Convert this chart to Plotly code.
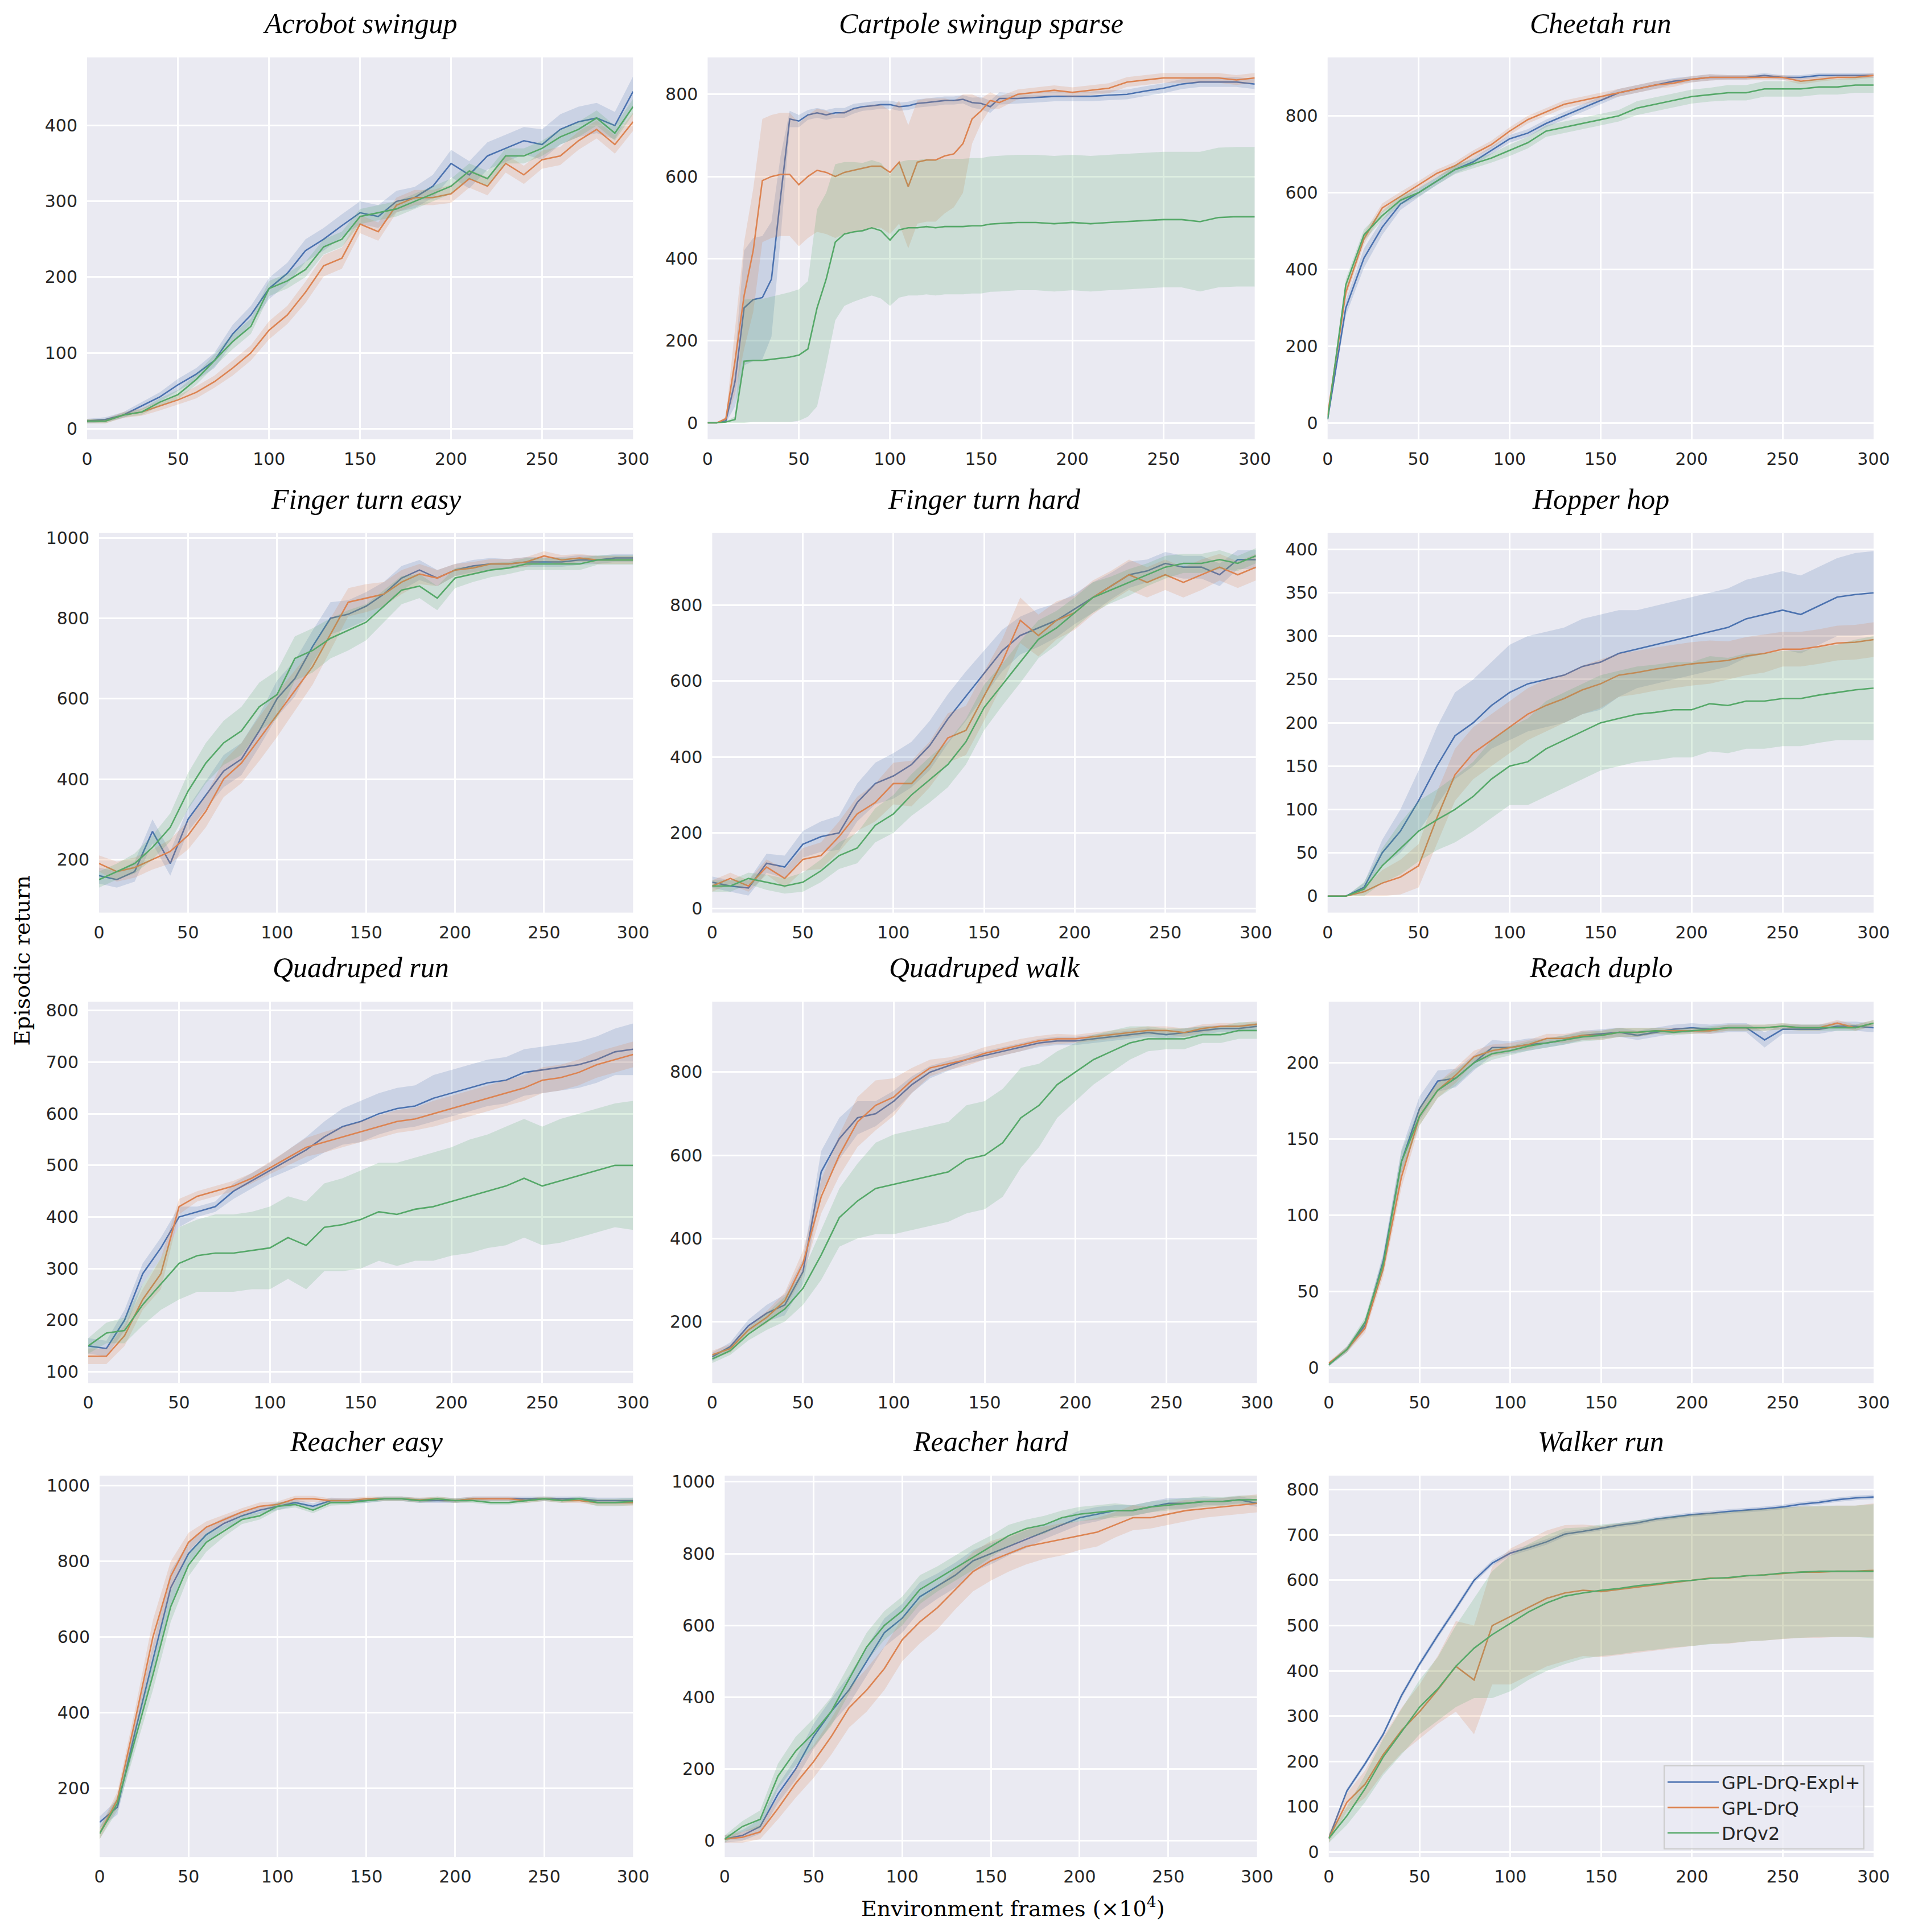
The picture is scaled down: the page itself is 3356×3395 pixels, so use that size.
import plotly.graph_objects as go

W, H = 3356, 3395

NAMES = ["GPL-DrQ-Expl+", "GPL-DrQ", "DrQv2"]
COLORS = ["#4C72B0", "#DD8452", "#55A868"]
FILLS = ["rgba(76,114,176,0.2)", "rgba(221,132,82,0.2)", "rgba(85,168,104,0.2)"]

# common x grid (environment frames x1e4)
X = [0, 10, 20, 30, 40, 50, 60, 70, 80, 90, 100, 110, 120, 130, 140, 150,
     160, 170, 180, 190, 200, 210, 220, 230, 240, 250, 260, 270, 280, 290, 300]
CART_X = [0, 5, 10, 15, 20, 25, 30, 35, 40, 45, 50, 55, 60, 65, 70, 75, 80, 85, 90, 95,
          100, 105, 110, 115, 120, 125, 130, 135, 140, 145, 150, 155, 160, 170, 180, 190,
          200, 210, 220, 230, 240, 250, 260, 270, 280, 290, 300]

# ---- Acrobot swingup
ACRO_EXPL = [10, 12, 18, 30, 42, 58, 72, 90, 125, 150, 185, 205, 235, 250, 268, 285, 280, 300, 305, 320, 350, 335, 360, 370, 380, 375, 395, 405, 410, 400, 445]
ACRO_EXPL_SD = [3, 3, 4, 5, 6, 8, 8, 10, 12, 12, 14, 14, 15, 15, 15, 15, 15, 14, 14, 15, 18, 18, 18, 18, 18, 20, 20, 20, 20, 18, 20]
ACRO_DRQ = [10, 10, 18, 22, 30, 38, 48, 62, 80, 100, 130, 150, 180, 215, 225, 270, 260, 295, 305, 305, 310, 330, 320, 350, 335, 355, 360, 380, 395, 375, 405]
ACRO_DRQ_SD = [3, 3, 4, 5, 6, 6, 8, 8, 10, 10, 12, 12, 14, 14, 14, 12, 12, 10, 10, 10, 12, 12, 12, 12, 12, 12, 12, 12, 12, 12, 12]
ACRO_V2 = [10, 10, 18, 22, 35, 45, 65, 90, 115, 135, 185, 195, 210, 240, 250, 280, 285, 290, 300, 310, 320, 340, 330, 360, 360, 370, 385, 395, 410, 390, 425]
ACRO_V2_SD = [3, 3, 3, 4, 5, 6, 7, 8, 10, 10, 10, 10, 10, 10, 10, 10, 10, 10, 10, 10, 10, 10, 10, 10, 10, 10, 10, 10, 10, 10, 10]

# ---- Cartpole swingup sparse
CART_EXPL = [0, 0, 5, 100, 280, 300, 305, 350, 550, 740, 735, 750, 755, 750, 755, 755, 765, 770, 772, 775,
             775, 770, 772, 778, 780, 782, 785, 785, 788, 780, 778, 770, 790, 790, 792, 795,
             795, 795, 798, 800, 808, 815, 825, 830, 830, 830, 825]
CART_EXPL_SD = [0, 0, 5, 60, 140, 150, 150, 140, 100, 20, 15, 12, 12, 12, 12, 12, 12, 10, 10, 10,
                10, 10, 10, 10, 10, 10, 10, 10, 10, 12, 15, 15, 15, 12, 12, 12,
                12, 12, 12, 12, 12, 12, 12, 12, 12, 12, 12]
CART_DRQ = [0, 0, 10, 150, 310, 420, 590, 600, 605, 605, 580, 600, 615, 610, 600, 610, 615, 620, 625, 625,
            610, 635, 575, 635, 640, 640, 650, 655, 680, 740, 760, 785, 780, 800, 805, 810,
            805, 810, 815, 830, 835, 840, 840, 840, 840, 835, 840]
CART_DRQ_SD = [0, 0, 5, 80, 130, 150, 150, 150, 150, 150, 150, 150, 150, 150, 150, 150, 150, 150, 150, 150,
               150, 150, 150, 150, 150, 150, 140, 130, 120, 60, 30, 20, 15, 12, 12, 12,
               12, 12, 12, 12, 12, 12, 12, 12, 12, 12, 12]
CART_V2 = [0, 0, 2, 8, 150, 152, 152, 155, 157, 160, 165, 180, 280, 350, 440, 460, 465, 468, 475, 468,
           445, 470, 475, 475, 478, 475, 478, 478, 478, 480, 480, 484, 485, 488, 488, 485,
           488, 485, 488, 490, 492, 495, 495, 490, 500, 502, 502]
CART_V2_SD = [0, 0, 2, 8, 150, 150, 150, 152, 155, 158, 160, 165, 240, 210, 190, 175, 170, 165, 165, 165,
              160, 165, 165, 165, 165, 165, 165, 165, 165, 165, 165, 165, 165, 165, 165, 165,
              165, 165, 165, 165, 165, 165, 165, 170, 170, 170, 170]

# ---- Cheetah run
CHEE_EXPL = [10, 300, 430, 510, 570, 600, 630, 660, 680, 710, 740, 755, 780, 800, 820, 840, 860, 870, 880, 890, 895, 900, 900, 900, 905, 900, 900, 905, 905, 905, 905]
CHEE_EXPL_SD = [5, 20, 25, 20, 15, 12, 10, 10, 10, 10, 10, 10, 10, 10, 10, 10, 10, 10, 10, 8, 8, 8, 6, 6, 6, 6, 6, 6, 6, 6, 6]
CHEE_DRQ = [20, 340, 480, 560, 590, 620, 650, 670, 700, 725, 760, 790, 810, 830, 840, 850, 860, 870, 880, 885, 895, 900, 900, 900, 900, 900, 890, 895, 900, 900, 905]
CHEE_DRQ_SD = [5, 15, 15, 12, 12, 10, 10, 10, 10, 10, 10, 10, 10, 10, 10, 10, 10, 10, 10, 10, 8, 8, 6, 6, 6, 6, 8, 6, 6, 6, 6]
CHEE_V2 = [10, 360, 490, 540, 580, 600, 630, 660, 675, 690, 710, 730, 760, 770, 780, 790, 800, 820, 830, 840, 850, 855, 860, 860, 870, 870, 870, 875, 875, 880, 880]
CHEE_V2_SD = [5, 15, 15, 12, 12, 10, 10, 12, 12, 12, 15, 15, 15, 15, 15, 15, 15, 18, 18, 18, 18, 18, 20, 20, 20, 20, 20, 20, 20, 20, 20]

# ---- Finger turn easy
FEAS_EXPL = [160, 150, 170, 270, 190, 300, 360, 420, 450, 520, 600, 650, 730, 800, 810, 830, 860, 900, 920, 900, 920, 930, 935, 935, 940, 940, 940, 945, 945, 950, 950]
FEAS_EXPL_SD = [20, 20, 25, 30, 30, 30, 35, 40, 40, 40, 45, 45, 40, 40, 35, 35, 30, 30, 25, 20, 15, 15, 15, 12, 12, 12, 12, 12, 10, 10, 10]
FEAS_DRQ = [190, 170, 180, 200, 220, 260, 320, 400, 440, 500, 560, 620, 680, 760, 840, 850, 860, 890, 910, 900, 920, 925, 935, 935, 940, 955, 945, 950, 945, 945, 945]
FEAS_DRQ_SD = [20, 25, 25, 25, 30, 35, 40, 45, 50, 55, 55, 50, 45, 40, 35, 35, 30, 30, 25, 20, 15, 15, 12, 12, 12, 12, 12, 10, 10, 10, 10]
FEAS_V2 = [150, 170, 190, 230, 280, 370, 440, 490, 520, 580, 610, 700, 720, 750, 770, 790, 830, 870, 880, 850, 900, 910, 920, 925, 935, 935, 935, 935, 945, 945, 945]
FEAS_V2_SD = [20, 20, 25, 30, 35, 45, 50, 55, 60, 60, 60, 55, 55, 50, 50, 45, 40, 35, 30, 30, 25, 20, 18, 15, 15, 15, 15, 15, 12, 12, 12]

# ---- Finger turn hard
FHRD_EXPL = [70, 60, 55, 120, 110, 170, 190, 200, 280, 330, 350, 380, 430, 500, 560, 620, 680, 720, 740, 760, 790, 820, 850, 880, 890, 910, 900, 900, 880, 920, 920]
FHRD_EXPL_SD = [15, 15, 20, 25, 30, 35, 40, 45, 50, 55, 60, 60, 65, 65, 65, 60, 55, 50, 50, 45, 40, 40, 35, 35, 30, 30, 30, 30, 30, 25, 25]
FHRD_DRQ = [60, 80, 60, 110, 80, 130, 140, 190, 250, 280, 330, 330, 380, 450, 470, 560, 650, 760, 720, 760, 780, 820, 850, 880, 860, 880, 860, 880, 900, 880, 900]
FHRD_DRQ_SD = [15, 15, 15, 20, 25, 30, 35, 40, 45, 50, 55, 60, 60, 65, 65, 65, 60, 60, 55, 50, 45, 45, 40, 40, 40, 40, 40, 40, 35, 35, 35]
FHRD_V2 = [60, 60, 80, 70, 60, 70, 100, 140, 160, 220, 250, 300, 340, 380, 440, 530, 590, 650, 710, 740, 780, 820, 840, 860, 880, 900, 910, 910, 920, 910, 930]
FHRD_V2_SD = [15, 15, 15, 20, 20, 25, 30, 35, 40, 45, 50, 55, 60, 60, 60, 60, 55, 55, 50, 45, 40, 40, 35, 35, 30, 30, 25, 25, 25, 20, 20]

# ---- Hopper hop
HOP_EXPL = [0, 0, 10, 50, 75, 110, 150, 185, 200, 220, 235, 245, 250, 255, 265, 270, 280, 285, 290, 295, 300, 305, 310, 320, 325, 330, 325, 335, 345, 348, 350]
HOP_EXPL_SD = [0, 0, 5, 15, 25, 35, 45, 50, 50, 50, 55, 55, 55, 55, 55, 55, 50, 45, 45, 45, 45, 45, 45, 45, 45, 45, 45, 45, 45, 48, 48]
HOP_DRQ = [0, 0, 5, 15, 22, 35, 90, 140, 165, 180, 195, 210, 220, 228, 238, 245, 255, 258, 262, 265, 268, 270, 272, 277, 280, 285, 285, 288, 292, 293, 296]
HOP_DRQ_SD = [0, 0, 5, 15, 20, 25, 30, 30, 30, 30, 30, 30, 30, 28, 28, 28, 25, 25, 25, 25, 25, 25, 22, 22, 22, 20, 20, 20, 20, 20, 20]
HOP_V2 = [0, 0, 8, 35, 55, 75, 88, 100, 115, 135, 150, 155, 170, 180, 190, 200, 205, 210, 212, 215, 215, 222, 220, 225, 225, 228, 228, 232, 235, 238, 240]
HOP_V2_SD = [0, 0, 8, 20, 30, 35, 35, 38, 40, 45, 45, 50, 55, 55, 55, 55, 55, 55, 55, 55, 55, 55, 55, 55, 55, 55, 55, 55, 55, 58, 60]

# ---- Quadruped run
QRUN_EXPL = [150, 145, 200, 290, 340, 400, 410, 420, 450, 470, 490, 510, 530, 555, 575, 585, 600, 610, 615, 630, 640, 650, 660, 665, 680, 685, 690, 695, 705, 720, 725]
QRUN_EXPL_SD = [15, 15, 20, 20, 20, 20, 10, 10, 15, 15, 15, 20, 25, 30, 35, 40, 40, 40, 40, 45, 45, 45, 45, 45, 45, 45, 45, 45, 45, 45, 50]
QRUN_DRQ = [130, 130, 170, 240, 290, 420, 440, 450, 460, 475, 495, 515, 535, 545, 555, 565, 575, 585, 590, 600, 610, 620, 630, 640, 650, 665, 670, 680, 695, 705, 715]
QRUN_DRQ_SD = [15, 15, 20, 20, 30, 15, 10, 10, 10, 10, 12, 15, 18, 20, 20, 20, 22, 22, 22, 25, 25, 25, 25, 25, 25, 25, 25, 25, 25, 25, 25]
QRUN_V2 = [150, 175, 180, 230, 270, 310, 325, 330, 330, 335, 340, 360, 345, 380, 385, 395, 410, 405, 415, 420, 430, 440, 450, 460, 475, 460, 470, 480, 490, 500, 500]
QRUN_V2_SD = [15, 20, 25, 40, 50, 70, 70, 75, 75, 75, 80, 80, 85, 85, 90, 95, 95, 100, 100, 105, 105, 110, 110, 115, 115, 115, 120, 120, 120, 120, 125]

# ---- Quadruped walk
QWLK_EXPL = [115, 140, 190, 220, 240, 320, 560, 640, 690, 700, 730, 770, 800, 815, 830, 840, 850, 860, 870, 875, 875, 880, 885, 890, 895, 890, 895, 900, 905, 905, 910]
QWLK_EXPL_SD = [10, 10, 15, 20, 25, 30, 50, 50, 40, 30, 25, 20, 15, 12, 10, 10, 10, 10, 10, 10, 10, 10, 10, 10, 10, 10, 10, 10, 8, 8, 8]
QWLK_DRQ = [120, 135, 180, 210, 250, 340, 500, 600, 680, 720, 740, 780, 810, 820, 830, 845, 855, 865, 875, 880, 880, 885, 890, 895, 900, 900, 895, 905, 910, 910, 915]
QWLK_DRQ_SD = [10, 10, 10, 15, 20, 30, 40, 50, 60, 60, 45, 30, 20, 15, 15, 15, 15, 15, 12, 12, 10, 10, 10, 10, 10, 10, 10, 10, 8, 8, 8]
QWLK_V2 = [110, 130, 170, 200, 230, 280, 360, 450, 490, 520, 530, 540, 550, 560, 590, 600, 630, 690, 720, 770, 800, 830, 850, 870, 880, 880, 880, 890, 890, 900, 900]
QWLK_V2_SD = [10, 10, 15, 20, 30, 40, 60, 70, 90, 110, 120, 120, 120, 120, 130, 130, 130, 120, 100, 80, 70, 60, 50, 40, 30, 25, 25, 20, 20, 20, 20]

# ---- Reach duplo
DUP_EXPL = [2, 12, 28, 70, 135, 170, 188, 190, 200, 210, 210, 212, 213, 215, 218, 219, 220, 218, 220, 222, 223, 222, 223, 223, 215, 222, 222, 222, 224, 224, 223]
DUP_EXPL_SD = [1, 2, 3, 5, 8, 8, 7, 6, 5, 5, 4, 4, 3, 3, 3, 3, 3, 3, 3, 3, 3, 3, 3, 3, 5, 3, 3, 3, 3, 3, 3]
DUP_DRQ = [3, 12, 26, 65, 125, 165, 182, 192, 204, 208, 210, 212, 216, 216, 218, 218, 220, 220, 221, 221, 221, 221, 223, 223, 223, 224, 223, 223, 226, 223, 226]
DUP_DRQ_SD = [1, 2, 3, 5, 7, 6, 5, 5, 4, 4, 3, 3, 3, 3, 3, 3, 3, 3, 2, 2, 2, 2, 2, 2, 2, 2, 2, 2, 2, 2, 2]
DUP_V2 = [2, 12, 30, 68, 135, 165, 182, 190, 200, 206, 208, 211, 213, 215, 217, 218, 220, 220, 221, 220, 221, 222, 223, 223, 223, 224, 223, 223, 223, 223, 226]
DUP_V2_SD = [1, 2, 3, 5, 7, 6, 5, 5, 4, 4, 3, 3, 3, 3, 3, 3, 3, 3, 2, 2, 2, 2, 2, 2, 2, 2, 2, 2, 2, 2, 2]

# ---- Reacher easy
REAS_EXPL = [110, 150, 350, 540, 730, 820, 870, 900, 920, 935, 945, 955, 945, 960, 960, 960, 965, 965, 960, 960, 960, 965, 965, 965, 965, 965, 965, 965, 960, 960, 960]
REAS_EXPL_SD = [15, 20, 30, 40, 45, 30, 20, 15, 12, 10, 10, 8, 8, 8, 6, 6, 6, 6, 6, 6, 6, 6, 6, 6, 6, 6, 6, 6, 8, 8, 8]
REAS_DRQ = [80, 170, 380, 600, 760, 850, 890, 910, 930, 945, 950, 965, 965, 960, 960, 965, 965, 965, 962, 965, 960, 965, 965, 965, 960, 965, 960, 960, 955, 955, 955]
REAS_DRQ_SD = [15, 20, 30, 45, 40, 25, 15, 12, 10, 10, 8, 8, 8, 6, 6, 6, 6, 6, 6, 6, 6, 6, 6, 6, 6, 6, 6, 6, 8, 8, 8]
REAS_V2 = [80, 160, 330, 500, 680, 790, 850, 880, 910, 920, 945, 950, 935, 955, 955, 960, 965, 965, 960, 965, 960, 960, 955, 955, 960, 965, 960, 965, 955, 955, 958]
REAS_V2_SD = [15, 20, 30, 40, 40, 30, 25, 15, 12, 10, 10, 8, 8, 8, 6, 6, 6, 6, 6, 6, 6, 6, 6, 6, 6, 6, 6, 6, 10, 10, 10]

# ---- Reacher hard
RHRD_EXPL = [5, 15, 40, 130, 200, 290, 360, 420, 500, 580, 620, 680, 710, 740, 780, 800, 820, 840, 860, 880, 900, 910, 920, 920, 930, 940, 940, 945, 945, 950, 940]
RHRD_EXPL_SD = [10, 15, 20, 25, 30, 35, 35, 40, 40, 40, 40, 40, 35, 35, 30, 30, 25, 25, 20, 20, 20, 20, 15, 15, 15, 15, 15, 10, 10, 10, 10]
RHRD_DRQ = [5, 10, 25, 90, 160, 220, 290, 370, 420, 480, 560, 610, 650, 700, 750, 780, 800, 820, 830, 840, 850, 860, 880, 900, 900, 910, 920, 925, 930, 935, 940]
RHRD_DRQ_SD = [10, 15, 20, 30, 40, 45, 50, 55, 60, 60, 60, 60, 60, 55, 55, 55, 50, 50, 45, 45, 40, 40, 35, 35, 30, 30, 30, 25, 25, 25, 25]
RHRD_V2 = [5, 40, 60, 180, 250, 300, 360, 450, 540, 600, 640, 700, 730, 760, 790, 820, 850, 870, 880, 900, 910, 915, 920, 920, 930, 935, 940, 945, 945, 950, 950]
RHRD_V2_SD = [10, 15, 25, 35, 40, 40, 40, 40, 40, 40, 40, 40, 35, 35, 35, 30, 30, 25, 25, 20, 20, 20, 20, 15, 15, 15, 15, 15, 12, 12, 12]

# ---- Walker run
WALK_EXPL = [30, 135, 195, 260, 345, 415, 478, 538, 600, 638, 660, 672, 685, 702, 708, 715, 722, 727, 735, 740, 745, 748, 752, 755, 758, 762, 768, 772, 778, 782, 784]
WALK_EXPL_SD = [5, 5, 5, 5, 6, 6, 6, 6, 6, 6, 6, 6, 6, 6, 5, 5, 5, 5, 5, 5, 5, 5, 5, 5, 5, 5, 5, 5, 5, 5, 5]
WALK_DRQ = [30, 110, 150, 215, 268, 310, 358, 410, 380, 500, 520, 540, 560, 572, 578, 575, 580, 585, 590, 595, 600, 605, 605, 610, 612, 615, 618, 618, 620, 620, 622]
WALK_DRQ_SD = [10, 20, 30, 40, 50, 60, 75, 100, 120, 130, 150, 150, 150, 150, 145, 145, 145, 145, 145, 145, 145, 145, 145, 145, 145, 145, 145, 145, 145, 145, 148]
WALK_V2 = [30, 80, 140, 210, 265, 320, 360, 410, 450, 480, 505, 530, 550, 565, 572, 578, 582, 588, 592, 597, 600, 604, 606, 610, 612, 616, 618, 620, 620, 620, 620]
WALK_V2_SD = [10, 20, 30, 40, 50, 60, 70, 90, 110, 140, 150, 150, 150, 150, 145, 145, 145, 145, 145, 145, 145, 145, 145, 145, 145, 145, 145, 145, 145, 145, 148]

# title, x, series, y range, y ticks, panel box in px (left, right, top, bottom)
PANELS = [
    ("Acrobot swingup", X, [(ACRO_EXPL, ACRO_EXPL_SD), (ACRO_DRQ, ACRO_DRQ_SD), (ACRO_V2, ACRO_V2_SD)],
     [-14, 490], [0, 100, 200, 300, 400], (154, 1113, 99, 771)),
    ("Cartpole swingup sparse", CART_X, [(CART_EXPL, CART_EXPL_SD), (CART_DRQ, CART_DRQ_SD), (CART_V2, CART_V2_SD)],
     [-40, 890], [0, 200, 400, 600, 800], (1244, 2205, 99, 771)),
    ("Cheetah run", X, [(CHEE_EXPL, CHEE_EXPL_SD), (CHEE_DRQ, CHEE_DRQ_SD), (CHEE_V2, CHEE_V2_SD)],
     [-42, 952], [0, 200, 400, 600, 800], (2333, 3292, 99, 771)),
    ("Finger turn easy", X, [(FEAS_EXPL, FEAS_EXPL_SD), (FEAS_DRQ, FEAS_DRQ_SD), (FEAS_V2, FEAS_V2_SD)],
     [68, 1012], [200, 400, 600, 800, 1000], (175, 1113, 936, 1604)),
    ("Finger turn hard", X, [(FHRD_EXPL, FHRD_EXPL_SD), (FHRD_DRQ, FHRD_DRQ_SD), (FHRD_V2, FHRD_V2_SD)],
     [-10, 990], [0, 200, 400, 600, 800], (1252, 2207, 936, 1604)),
    ("Hopper hop", X, [(HOP_EXPL, HOP_EXPL_SD), (HOP_DRQ, HOP_DRQ_SD), (HOP_V2, HOP_V2_SD)],
     [-19, 419], [0, 50, 100, 150, 200, 250, 300, 350, 400], (2333, 3292, 936, 1604)),
    ("Quadruped run", X, [(QRUN_EXPL, QRUN_EXPL_SD), (QRUN_DRQ, QRUN_DRQ_SD), (QRUN_V2, QRUN_V2_SD)],
     [78, 817], [100, 200, 300, 400, 500, 600, 700, 800], (156, 1113, 1761, 2432)),
    ("Quadruped walk", X, [(QWLK_EXPL, QWLK_EXPL_SD), (QWLK_DRQ, QWLK_DRQ_SD), (QWLK_V2, QWLK_V2_SD)],
     [52, 969], [200, 400, 600, 800], (1252, 2209, 1761, 2432)),
    ("Reach duplo", X, [(DUP_EXPL, DUP_EXPL_SD), (DUP_DRQ, DUP_DRQ_SD), (DUP_V2, DUP_V2_SD)],
     [-10, 240], [0, 50, 100, 150, 200], (2335, 3292, 1761, 2432)),
    ("Reacher easy", X, [(REAS_EXPL, REAS_EXPL_SD), (REAS_DRQ, REAS_DRQ_SD), (REAS_V2, REAS_V2_SD)],
     [18, 1026], [200, 400, 600, 800, 1000], (176, 1113, 2595, 3266)),
    ("Reacher hard", X, [(RHRD_EXPL, RHRD_EXPL_SD), (RHRD_DRQ, RHRD_DRQ_SD), (RHRD_V2, RHRD_V2_SD)],
     [-45, 1017], [0, 200, 400, 600, 800, 1000], (1274, 2209, 2595, 3266)),
    ("Walker run", X, [(WALK_EXPL, WALK_EXPL_SD), (WALK_DRQ, WALK_DRQ_SD), (WALK_V2, WALK_V2_SD)],
     [-11, 831], [0, 100, 200, 300, 400, 500, 600, 700, 800], (2335, 3292, 2595, 3266)),
]

TICK_FONT = dict(family="DejaVu Sans", size=30, color="#262626")

# the rendered paper area came out a little inset from the window, so map
# target pixel positions through that observed box
PAPER_L, PAPER_W = 19, 3316
PAPER_T, PAPER_H = 15, 3380


def fx(px):
    return (px - PAPER_L) / PAPER_W


def fy(py):
    return 1 - (py - PAPER_T) / PAPER_H


fig = go.Figure()
annotations = []
layout_axes = {}

for i, (title, xs, series, yr, yt, box) in enumerate(PANELS):
    n = "" if i == 0 else str(i + 1)
    left, right, top, bottom = box
    xd = [fx(left), fx(right)]
    yd = [fy(bottom), fy(top)]
    last = i == len(PANELS) - 1
    for k, (m, sd) in enumerate(series):
        hi = [a + b for a, b in zip(m, sd)]
        lo = [a - b for a, b in zip(m, sd)]
        fig.add_trace(go.Scatter(
            x=xs, y=m, mode="lines", name=NAMES[k],
            line=dict(color=COLORS[k], width=2.6),
            showlegend=last, legendrank=k + 1,
            xaxis="x" + n, yaxis="y" + n))
        fig.add_trace(go.Scatter(
            x=list(xs) + list(xs)[::-1], y=hi + lo[::-1],
            fill="toself", fillcolor=FILLS[k], line=dict(width=0),
            mode="lines", hoverinfo="skip", showlegend=False,
            xaxis="x" + n, yaxis="y" + n))
    layout_axes["xaxis" + n] = dict(
        domain=xd, range=[0, 300], tickvals=[0, 50, 100, 150, 200, 250, 300],
        anchor="y" + n, showgrid=True, gridcolor="white", gridwidth=2.5,
        zeroline=False, showline=False, ticks="", tickfont=TICK_FONT,
        ticklabelstandoff=14)
    layout_axes["yaxis" + n] = dict(
        domain=yd, range=yr, tickvals=yt, anchor="x" + n,
        showgrid=True, gridcolor="white", gridwidth=2.5,
        zeroline=False, showline=False, ticks="", tickfont=TICK_FONT,
        ticklabelstandoff=16)
    annotations.append(dict(
        text="<i>" + title + "</i>", x=(xd[0] + xd[1]) / 2, y=fy(top - 30),
        xref="paper", yref="paper", xanchor="center", yanchor="bottom",
        showarrow=False, font=dict(family="Liberation Serif", size=50, color="black")))

annotations.append(dict(
    text="Episodic return", x=fx(40), y=fy(1689), xref="paper", yref="paper",
    xanchor="center", yanchor="middle", textangle=-90, showarrow=False,
    font=dict(family="DejaVu Serif", size=38, color="black")))
annotations.append(dict(
    text="Environment frames (×10<sup>4</sup>)", x=fx(1780), y=fy(3354),
    xref="paper", yref="paper", xanchor="center", yanchor="middle", showarrow=False,
    font=dict(family="DejaVu Serif", size=38, color="black")))

fig.update_layout(
    width=W, height=H,
    margin=dict(l=0, r=0, t=0, b=0),
    paper_bgcolor="white", plot_bgcolor="#EAEAF2",
    annotations=annotations,
    legend=dict(
        x=fx(3276), y=fy(3253), xanchor="right", yanchor="bottom",
        bgcolor="rgba(234,234,242,0.8)", bordercolor="#cccccc", borderwidth=2,
        font=dict(family="DejaVu Sans", size=32, color="#262626"),
        itemwidth=90, tracegroupgap=0),
    **layout_axes,
)

fig.write_html("out.html")
